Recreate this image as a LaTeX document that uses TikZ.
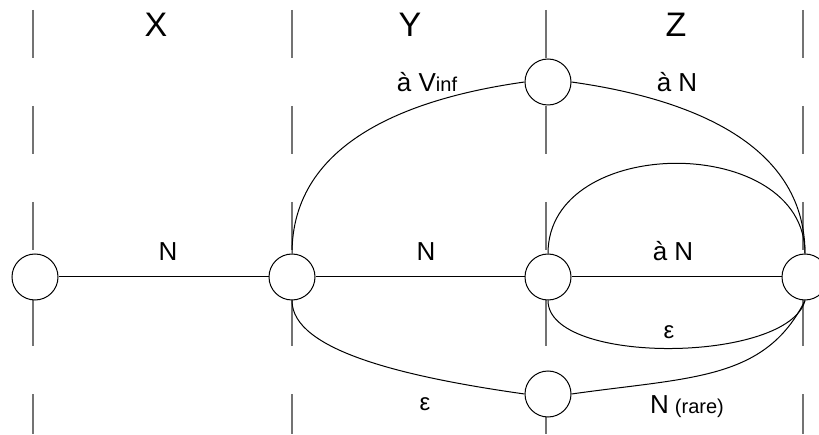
\documentclass[tikz,border=0pt]{standalone}
\usepackage{fontspec}
\setmainfont{Liberation Sans}
\begin{document}
\begin{tikzpicture}[x=0.5pt,y=0.5pt,
state/.style={draw,circle,fill=white,minimum size=23pt,inner sep=0pt,line width=0.5pt},
col/.style={draw=black!55,line width=0.7pt,dash pattern=on 24pt off 24pt},
head/.style={font=\fontsize{17}{19}\selectfont,anchor=base},
lbl/.style={font=\fontsize{13}{15}\selectfont,anchor=base},
eps/.style={font=\fontsize{12}{14}\selectfont,anchor=base},
every path/.style={line width=0.5pt}
]
\useasboundingbox (0,0) rectangle (819,434);
\foreach \x in {33,292,546,803}
  \draw[col] (\x,424) -- (\x,0);

\node[state] (1) at (35,157) {};
\node[state] (2) at (292,157) {};
\node[state] (3) at (548,157) {};
\node[state] (4) at (805,157) {};
\node[state] (5) at (548,352) {};
\node[state] (6) at (548,40) {};

\draw (1) -- (2);
\draw (2) -- (3);
\draw (3) -- (4);
\draw (2.north) to[out=90,in=-172] (5.west);
\draw (5.east) to[out=-8,in=90] (4.north);
\draw (3.north) to[out=90,in=90,looseness=1.2] (4.north);
\draw (3.south) to[out=-90,in=-105,looseness=0.65] (4.south);
\draw (2.south) .. controls +(0,-50) and +(-120,17) .. (6.west);
\draw (6.east) .. controls +(120,17) and +(-40,-80) .. (4.south);

\node[head] (x) at (156,397) {X};
\node[head] (y) at (410,397) {Y};
\node[head] (z) at (676,397) {Z};
\node[lbl] (vinf) at (427,342) {à V{\fontsize{10}{12}\selectfont inf}};
\node[lbl] (an1) at (677,342) {à N};
\node[lbl] (n1) at (168,173) {N};
\node[lbl] (n2) at (426,173) {N};
\node[lbl] (an2) at (673,173) {à N};
\node[eps] (e1) at (669,96) {ε};
\node[eps] (e2) at (425,24) {ε};
\node[lbl,anchor=base west] (rare) at (643,21) {N\hspace{3pt}{\fontsize{10}{12}\selectfont (rare)}};
\end{tikzpicture}
\end{document}
